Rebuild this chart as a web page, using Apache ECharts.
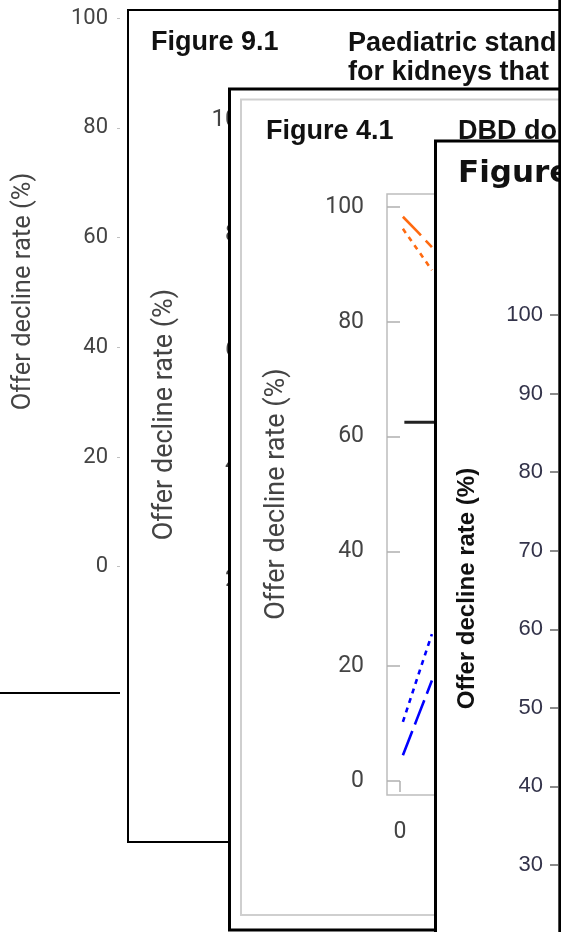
<!DOCTYPE html>
<html><head><meta charset="utf-8">
<script src="https://cdn.jsdelivr.net/npm/echarts@6/dist/echarts.min.js"></script>
<style>html,body{margin:0;padding:0;background:#fff}#c{width:561px;height:932px}</style>
</head><body><div id="c"></div>
<script>
// ---- data ----
const pctTicks = [0, 20, 40, 60, 80, 100];          // Figure 9.1 / back panels / Figure 4.1
const fig4bTicks = [30, 40, 50, 60, 70, 80, 90, 100]; // front "Figure" panel
const offerTicks = [0, 50];                          // Figure 4.1 x axis (only 0 visible)
const offers = [1, 6, 11];                           // number of offers (visible part)
const upper998 = [98.3, 95.7, 93.0];                 // orange long dash
const upper95 = [96.2, 92.6, 89.0];                  // orange dotted
const lower95 = [10.3, 18.0, 25.6];                  // blue dotted
const lower998 = [4.5, 11.0, 17.5];                  // blue long dash
const nationalX = [1.5, 12];
const nationalRate = [62.5, 62.5];                   // black reference line
const axisName = 'Offer decline rate (%)';
const titles = ['Figure 9.1', 'Paediatric stand', 'for kidneys that', 'Figure 4.1', 'DBD do', 'Figure'];

const chart = echarts.init(document.getElementById('c'), null, {renderer: 'canvas'});
const pair = (xs, ys) => xs.map((x, i) => [x, ys[i]]);
const ORANGE = '#ff6a10', BLUE = '#0000ff';

function pctAxis(gi, z, ticks, o) {
  return Object.assign({
    gridIndex: gi, type: 'value', z: z,
    min: ticks[0], max: ticks[ticks.length - 1], interval: ticks[1] - ticks[0],
    axisLine: {show: false}, splitLine: {show: false}
  }, o);
}
function hiddenX(gi) {
  return {gridIndex: gi, type: 'value', show: false, min: 0, max: 1};
}
function line(name, ys, color, type, xs, w) {
  return {
    name: name, type: 'line', xAxisIndex: 2, yAxisIndex: 2, z: 5,
    data: pair(xs || offers, ys), symbol: 'none', animation: false,
    lineStyle: {color: color, width: w || 2.6, type: type}
  };
}
function rotText(x, y, size, fam, weight, color, z) {
  return {type: 'text', z: z, x: x, y: y, rotation: Math.PI / 2, silent: true,
    style: {text: axisName, fontSize: size, fontFamily: fam, fontWeight: weight,
      fill: color, align: 'center', verticalAlign: 'middle'}};
}
function txt(t, x, y, size, fam, color, z) {
  return {type: 'text', z: z, x: x, y: y, silent: true,
    style: {text: t, fontSize: size, fontFamily: fam, fontWeight: 'bold',
      fill: color, align: 'left', verticalAlign: 'middle'}};
}

const option = {
  animation: false,
  backgroundColor: '#fff',
  grid: [
    {left: 120, top: 18.3, width: 6, height: 548.4},
    {left: 264, top: 120, width: 6, height: 575},
    {left: 400, top: 207, width: 161, height: 574},
    {left: 558, top: 315, width: 3, height: 550}
  ],
  xAxis: [
    hiddenX(0), hiddenX(1),
    {gridIndex: 2, type: 'value', z: 5, min: offerTicks[0], max: offerTicks[1],
      interval: offerTicks[1] - offerTicks[0], offset: 14,
      axisLine: {show: false}, splitLine: {show: false},
      axisTick: {length: 11, lineStyle: {color: '#b0b0b0', width: 1.5}},
      axisLabel: {margin: 26, fontFamily: 'Roboto', fontSize: 23, color: '#444'}},
    hiddenX(3)
  ],
  yAxis: [
    pctAxis(0, 1, pctTicks, {
      axisTick: {length: 3, lineStyle: {color: '#c0c0c0', width: 1}},
      axisLabel: {margin: 12, fontFamily: 'Roboto', fontSize: 22, color: '#444'}}),
    pctAxis(1, 3, pctTicks, {
      axisTick: {show: false},
      axisLabel: {margin: 12, fontFamily: 'Roboto', fontSize: 24, color: '#444'}}),
    pctAxis(2, 5, pctTicks, {offset: 13,
      axisTick: {length: 13, lineStyle: {color: '#b0b0b0', width: 1.5}},
      axisLabel: {margin: 23, fontFamily: 'Roboto', fontSize: 23, color: '#444'}}),
    pctAxis(3, 7, fig4bTicks, {
      axisTick: {length: 8, lineStyle: {color: '#666', width: 1.5}},
      axisLabel: {margin: 15, fontFamily: 'Liberation Sans', fontSize: 22, color: '#33334a'}})
  ],
  series: [
    line('99.8% upper', upper998, ORANGE, [26, 7]),
    line('95% upper', upper95, ORANGE, [5, 5]),
    line('95% lower', lower95, BLUE, [5, 5]),
    line('99.8% lower', lower998, BLUE, [26, 7]),
    line('National rate', nationalRate, '#222', 'solid', nationalX, 3)
  ],
  graphic: {elements: [
    // back panel
    {type: 'line', z: 1, silent: true, shape: {x1: 0, y1: 693, x2: 120, y2: 693},
      style: {stroke: '#000', lineWidth: 2}},
    rotText(23.5, 291.5, 25.5, 'Roboto', 'normal', '#444', 1),
    // Figure 9.1 panel
    {type: 'rect', z: 2, silent: true, shape: {x: 128, y: 10, width: 600, height: 832},
      style: {fill: '#fff', stroke: '#000', lineWidth: 2}},
    txt(titles[0], 151, 43, 27, 'Liberation Sans', '#111', 3),
    txt(titles[1], 348, 44, 27, 'Liberation Sans', '#111', 3),
    txt(titles[2], 348, 73, 27, 'Liberation Sans', '#111', 3),
    rotText(165, 414.5, 27, 'Roboto', 'normal', '#444', 3),
    // Figure 4.1 panel
    {type: 'rect', z: 4, silent: true, shape: {x: 229.5, y: 89, width: 600, height: 841},
      style: {fill: '#fff', stroke: '#000', lineWidth: 3}},
    {type: 'rect', z: 4, silent: true, shape: {x: 241, y: 99.5, width: 600, height: 815.5},
      style: {fill: '#fff', stroke: '#cfcfcf', lineWidth: 2}},
    {type: 'rect', z: 4, silent: true, shape: {x: 387, y: 194, width: 300, height: 601},
      style: {fill: 'none', stroke: '#bdbdbd', lineWidth: 1.5}},
    txt(titles[3], 266, 132, 27, 'Liberation Sans', '#111', 5),
    txt(titles[4], 458, 132, 27, 'Liberation Sans', '#111', 5),
    rotText(277, 494, 27, 'Roboto', 'normal', '#444', 5),
    // front panel
    {type: 'rect', z: 6, silent: true, shape: {x: 435.5, y: 141, width: 600, height: 900},
      style: {fill: '#fff', stroke: '#000', lineWidth: 3}},
    txt(titles[5], 458, 174, 31, 'DejaVu Sans', '#111', 7),
    rotText(467, 588.5, 24, 'Liberation Sans', 'bold', '#111', 7),
    // right edge stripe
    {type: 'rect', z: 8, silent: true, shape: {x: 558.3, y: 0, width: 3, height: 932},
      style: {fill: '#000'}}
  ]}
};
chart.setOption(option);
</script></body></html>
